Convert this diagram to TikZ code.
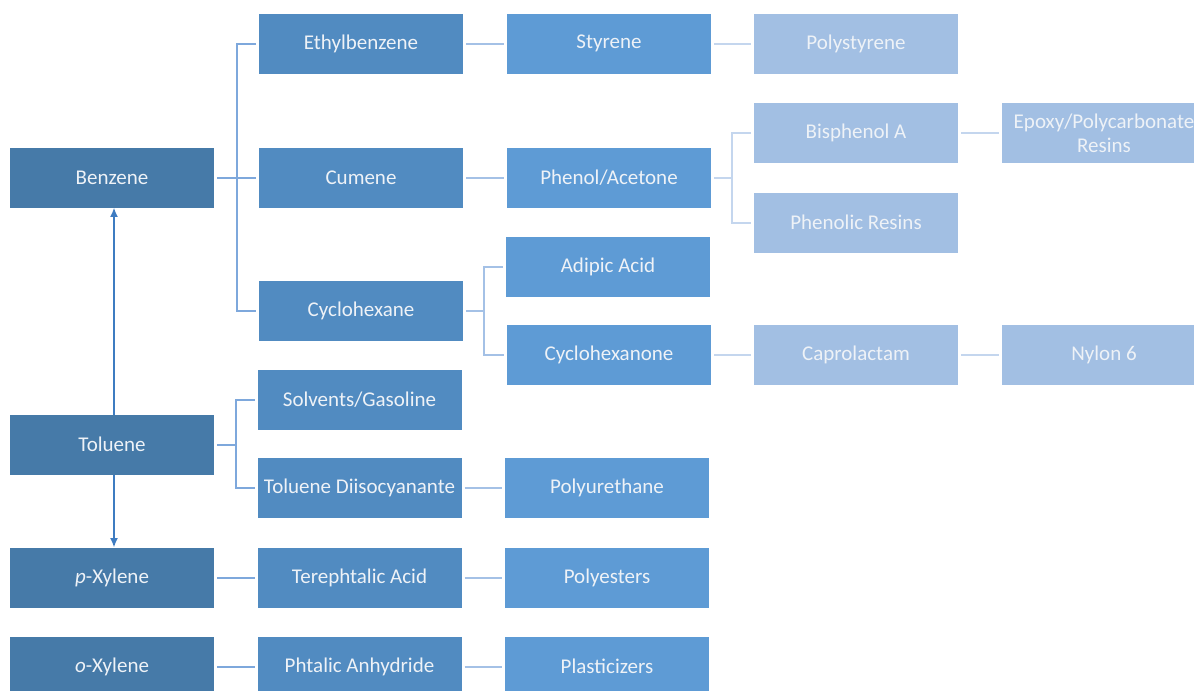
\documentclass[tikz,border=0pt]{standalone}
\usepackage{fontspec}
\setmainfont{Carlito}
\usepackage{tikz}
\usetikzlibrary{arrows.meta}

\definecolor{feedblue}{RGB}{70,122,168}
\definecolor{midblue}{RGB}{81,139,193}
\definecolor{prodblue}{RGB}{94,155,213}
\definecolor{paleblue}{RGB}{162,191,227}
\definecolor{boxtext}{RGB}{238,242,247}
\definecolor{linkA}{RGB}{126,168,220}
\definecolor{linkB}{RGB}{164,193,230}
\definecolor{linkC}{RGB}{196,214,238}
\definecolor{arrowblue}{RGB}{62,124,193}

\begin{document}
\begin{tikzpicture}[x=0.75pt,y=-0.75pt,
		box/.style={minimum width=153pt,minimum height=45pt,inner sep=0pt,outer sep=2.25pt,
			text=boxtext,align=center,font=\fontsize{15.75}{18}\selectfont},
		feed/.style={box,fill=feedblue},
		inter/.style={box,fill=midblue},
		prod/.style={box,fill=prodblue},
		final/.style={box,fill=paleblue},
		linkone/.style={draw=linkA,line width=1.5pt},
		linktwo/.style={draw=linkB,line width=1.5pt},
		linkthree/.style={draw=linkC,line width=1.5pt},
		feedarrow/.style={draw=arrowblue,line width=1.5pt,-{Latex[length=7pt,width=6pt]},
			shorten >=-2.25pt,shorten <=-2.25pt}]
		\useasboundingbox (0,0) rectangle (1194,690);
		% feedstocks
		\node[feed] (Benzene) at (112,177.5) {Benzene};
		\node[feed] (Toluene) at (112,444.5) {Toluene};
		\node[feed] (pXylene) at (112,577.5) {\textit{p}-Xylene};
		\node[feed] (oXylene) at (112,666.5) {\textit{o}-Xylene};
		% first derivatives
		\node[inter] (Ethylbenzene) at (361,43.5) {Ethylbenzene};
		\node[inter] (Cumene) at (361,177.5) {Cumene};
		\node[inter] (Cyclohexane) at (361,311) {Cyclohexane};
		\node[inter] (Solvents) at (359.5,399.5) {Solvents/Gasoline};
		\node[inter] (TDI) at (359.5,488) {Toluene Diisocyanante};
		\node[inter] (Terephtalic) at (359.5,577.5) {Terephtalic Acid};
		\node[inter] (Phtalic) at (359.5,666.5) {Phtalic Anhydride};
		% second derivatives
		\node[prod] (Styrene) at (609,43.5) {Styrene};
		\node[prod] (Phenol) at (609,177.5) {Phenol/Acetone};
		\node[prod] (Adipic) at (608,266.5) {Adipic Acid};
		\node[prod] (Cyclohexanone) at (609,355) {Cyclohexanone};
		\node[prod] (Polyurethane) at (607,488) {Polyurethane};
		\node[prod] (Polyesters) at (607,577.5) {Polyesters};
		\node[prod] (Plasticizers) at (607,666.5) {Plasticizers};
		% end products
		\node[final] (Polystyrene) at (856,43.5) {Polystyrene};
		\node[final] (Bisphenol) at (856,133) {Bisphenol A};
		\node[final] (Phenolic) at (856,222.5) {Phenolic Resins};
		\node[final] (Caprolactam) at (856,355) {Caprolactam};
		\node[final] (Epoxy) at (1104,133) {Epoxy/Polycarbonate\\Resins};
		\node[final] (Nylon) at (1104,355) {Nylon 6};
		% links from the feedstocks
		\draw[linkone] (Benzene) -- (Cumene);
		\draw[linkone] (Ethylbenzene.west) -- ++(-19,0) |- (Cyclohexane.west);
		\draw[linkone] (Toluene.east) -- ++(19,0);
		\draw[linkone] (Solvents.west) -- ++(-19,0) |- (TDI.west);
		\draw[linkone] (pXylene) -- (Terephtalic);
		\draw[linkone] (oXylene) -- (Phtalic);
		% links from the first derivatives
		\draw[linktwo] (Ethylbenzene) -- (Styrene);
		\draw[linktwo] (Cumene) -- (Phenol);
		\draw[linktwo] (Cyclohexane.east) -- ++(19,0);
		\draw[linktwo] (Adipic.west) -- ++(-19,0) |- (Cyclohexanone.west);
		\draw[linktwo] (TDI) -- (Polyurethane);
		\draw[linktwo] (Terephtalic) -- (Polyesters);
		\draw[linktwo] (Phtalic) -- (Plasticizers);
		% links from the second derivatives
		\draw[linkthree] (Styrene) -- (Polystyrene);
		\draw[linkthree] (Phenol.east) -- ++(19,0);
		\draw[linkthree] (Bisphenol.west) -- ++(-19,0) |- (Phenolic.west);
		\draw[linkthree] (Cyclohexanone) -- (Caprolactam);
		\draw[linkthree] (Bisphenol) -- (Epoxy);
		\draw[linkthree] (Caprolactam) -- (Nylon);
		% toluene conversion
		\draw[feedarrow] ([xshift=1.5pt]Toluene.north) -- ([xshift=1.5pt]Benzene.south);
		\draw[feedarrow] ([xshift=1.5pt]Toluene.south) -- ([xshift=1.5pt]pXylene.north);
\end{tikzpicture}
\end{document}
